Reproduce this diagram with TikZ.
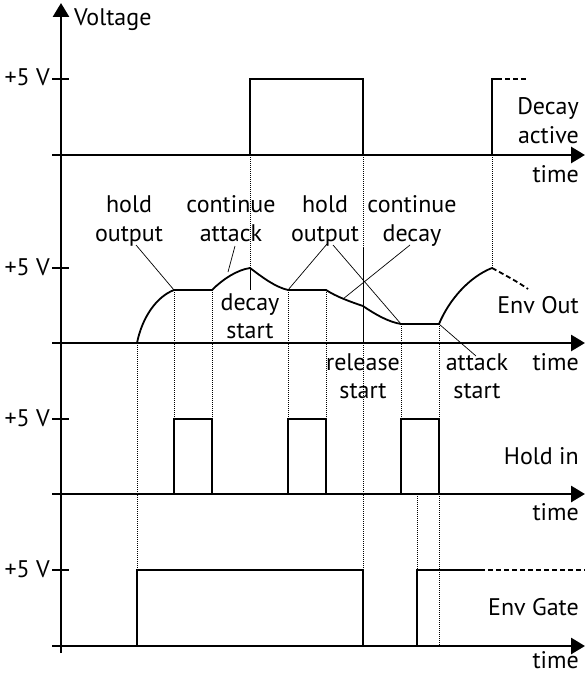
\documentclass[tikz,border=0pt]{standalone}
\usepackage{fontspec}
\setmainfont{PT Sans}
\usetikzlibrary{arrows.meta}
\begin{document}
\begin{tikzpicture}[x=1pt,y=-1pt,
  axis/.style={line width=2.8pt},
  axarrow/.style={axis,-{Triangle[length=14pt,width=16pt]}},
  sig/.style={line width=1.8pt},
  dsig/.style={sig,dash pattern=on 5pt off 3pt},
  guide/.style={line width=0.6pt,dash pattern=on 1pt off 1pt},
  ptr/.style={line width=0.7pt},
  lbl/.style={font=\fontsize{24}{28}\selectfont,inner sep=0pt,anchor=base},
  rlbl/.style={lbl,anchor=base east},
  llbl/.style={lbl,anchor=base west}]
\useasboundingbox (0,0) rectangle (585,674);

% axes
\coordinate (vbot) at (61,653);
\coordinate (vtop) at (61,3);
\draw[axarrow] (vbot) -- (vtop);
\foreach \n/\y in {d/155,e/343,h/494,g/646}{
  \coordinate (\n s) at (52,\y);
  \coordinate (\n e) at (585,\y);
  \draw[axarrow] (\n s) -- (\n e);
}
\foreach \n/\y in {d/79,e/268,h/419,g/570}{
  \coordinate (\n t0) at (52,\y);
  \coordinate (\n t1) at (69,\y);
  \draw[axis] (\n t0) -- (\n t1);
  \node[rlbl] (\n five) at (50,\y+7) {+5 V};
}
\node[llbl] (volt) at (74,26) {Voltage};

% Decay active
\coordinate (da0) at (250,155); \coordinate (da1) at (250,79);
\coordinate (da2) at (363,79);  \coordinate (da3) at (363,155);
\draw[sig] (da0) -- (da1) -- (da2) -- (da3);
\coordinate (db0) at (492,155); \coordinate (db1) at (492,79);
\coordinate (db2) at (497,79);  \coordinate (db3) at (528,79);
\draw[sig] (db0) -- (db1) -- (db2);
\draw[dsig] (db2) -- (db3);
\node[rlbl] (dlab1) at (579,115) {Decay};
\node[rlbl] (dlab2) at (579,143) {active};
\node[rlbl] (dtime) at (579,182) {time};

% Env Out
\coordinate (E0) at (137,343);
\coordinate (E1) at (174,290);
\coordinate (E2) at (212,290);
\coordinate (E3) at (250,268);
\coordinate (E4) at (288,290);
\coordinate (E5) at (326,290);
\coordinate (E6) at (363,306);
\coordinate (E7) at (401,324);
\coordinate (E8) at (439,324);
\coordinate (E9) at (492,268);
\coordinate (E10) at (528,289);
\draw[sig] (E0) .. controls (142,318) and (156,297) .. (E1) -- (E2)
  .. controls (223,279) and (237,270) .. (E3)
  .. controls (262,277) and (275,287) .. (E4) -- (E5)
  .. controls (337,297) and (351,302) .. (E6)
  .. controls (376,315) and (389,322) .. (E7) -- (E8)
  .. controls (449,300) and (469,277) .. (E9);
\draw[sig,dash pattern=on 5pt off 3pt] (E9) .. controls (505,275) and (518,282) .. (E10);
\node[rlbl] (envout) at (579,313) {Env Out};
\node[rlbl] (etime) at (579,370) {time};

% labels and pointers
\node[lbl] (h1a) at (129,212) {hold};
\node[lbl] (h1b) at (129,241) {output};
\node[lbl] (c1a) at (231,212) {continue};
\node[lbl] (c1b) at (231,241) {attack};
\node[lbl] (s1a) at (250,310) {decay};
\node[lbl] (s1b) at (250,338) {start};
\node[lbl] (h2a) at (325,212) {hold};
\node[lbl] (h2b) at (325,241) {output};
\node[lbl] (c2a) at (412,212) {continue};
\node[lbl] (c2b) at (412,241) {decay};
\node[lbl] (r1a) at (363,370) {release};
\node[lbl] (r1b) at (363,398) {start};
\node[lbl] (a1a) at (477,370) {attack};
\node[lbl] (a1b) at (477,398) {start};

\coordinate (p1) at (136,245);
\coordinate (p2a) at (235,246); \coordinate (p2b) at (228,272);
\coordinate (p3) at (250,290);
\coordinate (p4a) at (327,244); \coordinate (p4b) at (333,245);
\coordinate (p5a) at (410,245); \coordinate (p5b) at (343,299);
\coordinate (p6a) at (363,248); \coordinate (p6b) at (363,343);
\coordinate (p7) at (476,356);
\draw[ptr] (p1) -- (E1);
\draw[ptr] (p2a) -- (p2b);
\draw[ptr] (E3) -- (p3);
\draw[ptr] (p4a) -- (E4);
\draw[ptr] (p4b) -- (E7);
\draw[ptr] (p5a) -- (p5b);
\draw[ptr] (p6a) -- (p6b);
\draw[ptr] (E8) -- (p7);

% Hold in
\foreach \i/\a/\b in {1/174/212,2/288/326,3/401/439}{
  \coordinate (hp\i a) at (\a,494); \coordinate (hp\i b) at (\a,419);
  \coordinate (hp\i c) at (\b,419); \coordinate (hp\i d) at (\b,494);
  \draw[sig] (hp\i a) -- (hp\i b) -- (hp\i c) -- (hp\i d);
}
\node[rlbl] (holdin) at (579,464) {Hold in};
\node[rlbl] (htime) at (579,520) {time};

% Env Gate
\coordinate (g0) at (137,646); \coordinate (g1) at (137,570);
\coordinate (g2) at (363,570); \coordinate (g3) at (363,646);
\draw[sig] (g0) -- (g1) -- (g2) -- (g3);
\coordinate (g4) at (417,646); \coordinate (g5) at (417,570);
\coordinate (g6) at (480,570); \coordinate (g7) at (585,570);
\draw[sig] (g4) -- (g5) -- (g6);
\draw[dsig] (g6) -- (g7);
\node[rlbl] (envgate) at (579,615) {Env Gate};
\node[rlbl] (gtime) at (579,668) {time};

% guides
\draw[guide] (E0) -- (g1);
\draw[guide] (E1) -- (hp1b);
\draw[guide] (E2) -- (hp1c);
\draw[guide] (da0) -- (E3);
\draw[guide] (E4) -- (hp2b);
\draw[guide] (E5) -- (hp2c);
\draw[guide] (da3) -- (p6a);
\draw[guide] (p6b) -- (g2);
\draw[guide] (E7) -- (hp3b);
\draw[guide] (E8) -- (hp3c);
\draw[guide] (hp3d) -- (g4 -| hp3d);
\draw[guide] (hp3a -| g4) -- (g5);
\draw[guide] (db0) -- (E9);
\end{tikzpicture}
\end{document}
